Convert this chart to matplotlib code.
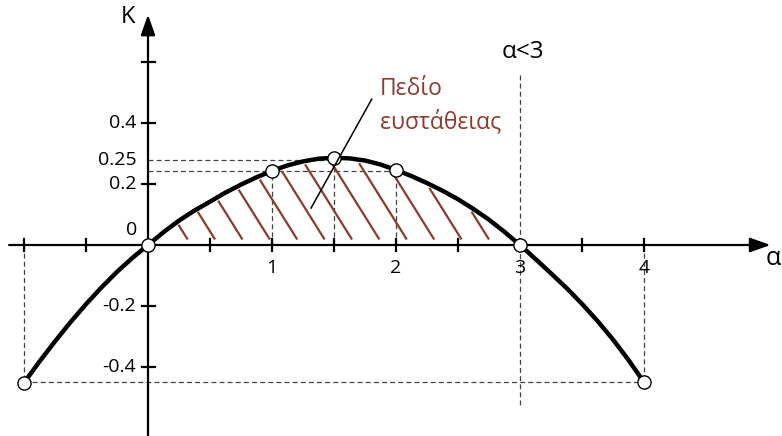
import numpy as np
import matplotlib
matplotlib.use("Agg")
from matplotlib import pyplot as plt

plt.rcParams['font.family'] = ['Open Sans', 'DejaVu Sans']

# curve K(a), values
alpha = [-1.0, -0.875, -0.75, -0.625, -0.5, -0.375, -0.25, -0.125, 0.0,
         0.125, 0.25, 0.375, 0.5, 0.625, 0.75, 0.875, 1.0, 1.125, 1.25, 1.375,
         1.5, 1.625, 1.75, 1.875, 2.0, 2.125, 2.25, 2.375, 2.5, 2.625, 2.75,
         2.875, 3.0, 3.125, 3.25, 3.375, 3.5, 3.625, 3.75, 3.875, 4.0]
K = [-0.452, -0.382, -0.316, -0.253, -0.194, -0.139, -0.088, -0.042, 0.0,
     0.042, 0.080, 0.113, 0.142, 0.172, 0.198, 0.222, 0.243, 0.261, 0.274, 0.283,
     0.286, 0.284, 0.277, 0.264, 0.246, 0.226, 0.203, 0.178, 0.150, 0.118, 0.083,
     0.043, 0.0, -0.046, -0.093, -0.141, -0.193, -0.249, -0.310, -0.377, -0.450]

# marked points
pt_a = [-1, 0, 1, 1.5, 2, 3, 4]
pt_k = [-0.452, 0, 0.243, 0.286, 0.246, 0, -0.450]

# guide levels
k_peak = 0.279
k_side = 0.243
k_low = -0.450

xticks = [-1, -0.5, 0.5, 1, 1.5, 2, 2.5, 3, 3.5, 4]
xlabels = ['1', '2', '3', '4']
xlabel_pos = [1, 2, 3, 4]
yticks = [-0.4, -0.2, 0.2, 0.4, 0.6]
ylabels = ['0.4', '0.25', '0.2', '-0.2', '-0.4']
ylabel_pos = [0.4, k_peak, 0.2, -0.2, -0.4]

brown = '#8e3b2d'
dash_col = '#444444'

fig = plt.figure(figsize=(7.82, 4.36), dpi=100)
ax = fig.add_axes([0, 0, 1, 1])
ax.set_xlim(-148 / 124, 634 / 124)
ax.set_ylim(-191 / 305, 245 / 305)
ax.axis('off')

# axes with arrows
arr = dict(arrowstyle='-|>,head_length=0.62,head_width=0.22', color='black',
           lw=1.6, shrinkA=0, shrinkB=0, mutation_scale=20)
ax.annotate('', xy=(5.02, 0), xytext=(-1.12, 0), arrowprops=arr)
ax.annotate('', xy=(0, 0.755), xytext=(0, -0.63), arrowprops=arr)

tl = 0.021
for t in xticks:
    ax.plot([t, t], [-tl, tl], color='black', lw=1.6)
for t in yticks:
    ax.plot([-0.048, 0.056], [t, t], color='black', lw=1.6)

# dashed guide lines
dkw = dict(color=dash_col, lw=0.9, ls=(0, (4, 2.5)), zorder=1)
ax.plot([0, 1.5], [k_peak, k_peak], **dkw)
ax.plot([0, 2], [k_side, k_side], **dkw)
for a, k in zip([1, 1.5, 2], [k_side, k_peak, k_side]):
    ax.plot([a, a], [0, k], **dkw)
ax.plot([3, 3], [-0.525, 0.557], **dkw)
ax.plot([-1, -1], [0, k_low], **dkw)
ax.plot([4, 4], [0, k_low], **dkw)
ax.plot([-1, 4], [k_low, k_low], **dkw)

# hatch of the stable region
fine = np.linspace(0, 3, 600)
curve_f = np.interp(fine, alpha, K)
slope = -0.65
for a0 in np.linspace(0.32, 2.75, 12):
    k0 = 0.018
    seg_a = fine[fine <= a0]
    line_k = k0 + slope * (seg_a - a0)
    cur = curve_f[fine <= a0] - 0.014
    inside = line_k <= cur
    idx = np.where(~inside)[0]
    a1 = seg_a[idx[-1]] if len(idx) else 0
    ax.plot([a0, a1], [k0, k0 + slope * (a1 - a0)], color=brown, lw=1.6,
            solid_capstyle='butt', zorder=2)

ax.plot(alpha, K, color='black', lw=3.2, zorder=3, solid_capstyle='round',
        solid_joinstyle='round')
ax.plot(pt_a, pt_k, 'o', ms=9.5, mfc='white', mec='black', mew=1.0, zorder=4)

# leader line
ax.plot([1.804, 1.315], [0.478, 0.121], color='black', lw=1.1, zorder=4)

# labels
for s, p in zip(xlabels, xlabel_pos):
    ax.text(p, -0.075, s, fontsize=14, ha='center', va='center')
for s, p in zip(ylabels, ylabel_pos):
    ax.text(-0.095, p, s, fontsize=14, ha='right', va='center')
ax.text(-0.13, 0.05, '0', fontsize=14, ha='center', va='center')
ax.text(-0.16, 0.748, 'K', fontsize=17, ha='center', va='center')
ax.text(5.04, -0.045, 'α', fontsize=18, ha='center', va='center')
ax.text(3.02, 0.633, 'α<3', fontsize=17.5, ha='center', va='center')
ax.text(1.87, 0.492, 'Πεδίο', fontsize=16.5, color=brown, ha='left', va='baseline')
ax.text(1.87, 0.384, 'ευστάθειας', fontsize=16.5, color=brown, ha='left', va='baseline')

fig.savefig('out.png', dpi=100)
